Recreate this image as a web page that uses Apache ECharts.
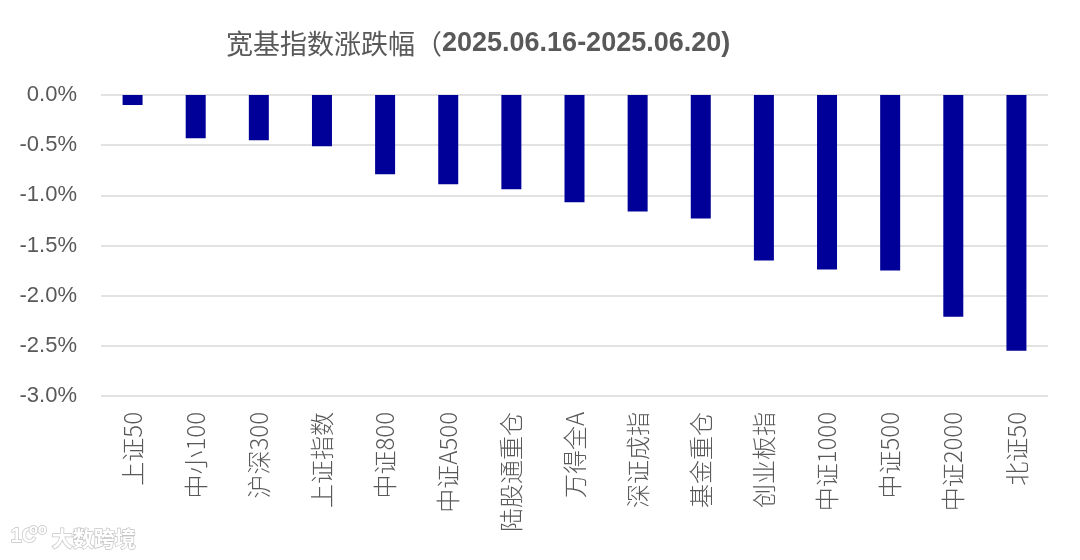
<!DOCTYPE html>
<html><head><meta charset="utf-8">
<script src="https://cdn.jsdelivr.net/npm/echarts@6/dist/echarts.min.js"></script>
<style>html,body{margin:0;padding:0;background:#fff}#c{width:1080px;height:560px}</style>
</head><body><div id="c"></div>
<script>
const categories = ['上证50','中小100','沪深300','上证指数','中证800','中证A500','陆股通重仓','万得全A','深证成指','基金重仓','创业板指','中证1000','中证500','中证2000','北证50'];
const values = [-0.10,-0.43,-0.45,-0.51,-0.79,-0.89,-0.94,-1.07,-1.16,-1.23,-1.65,-1.74,-1.75,-2.21,-2.55];
const titleMain = '宽基指数涨跌幅（';
const titleDate = '2025.06.16-2025.06.20)';
const watermark = '大数跨境';

const chart = echarts.init(document.getElementById('c'));
chart.setOption({
  backgroundColor: '#fff',
  animation: false,
  title: {
    text: '{a|' + titleMain + '}{b|' + titleDate + '}',
    left: 221, top: 25,
    textStyle: {
      fontWeight: 'normal',
      rich: {
        a: {fontFamily: 'Noto Sans CJK SC', fontSize: 27, fontWeight: 'normal', color: '#595959'},
        b: {fontFamily: 'Liberation Sans', fontSize: 27, fontWeight: 'bold', color: '#595959'}
      }
    }
  },
  grid: {left: 101, right: 32, top: 95, bottom: 164},
  xAxis: {
    type: 'category', data: categories, position: 'bottom',
    axisLine: {show: false}, axisTick: {show: false},
    axisLabel: {rotate: 90, margin: 16, fontSize: 24, fontWeight: 300, color: '#595959', fontFamily: 'Noto Sans CJK SC', interval: 0}
  },
  yAxis: {
    type: 'value', min: -3, max: 0, interval: 0.5,
    axisLine: {show: false}, axisTick: {show: false},
    splitLine: {lineStyle: {color: '#d9d9d9', width: 1.5}},
    axisLabel: {margin: 24, fontSize: 22, color: '#595959', fontFamily: 'Liberation Sans',
      formatter: v => v.toFixed(1) + '%'}
  },
  series: [{
    type: 'bar', data: values, barWidth: 20,
    itemStyle: {color: '#000099'}
  }],
  graphic: [{
    type: 'text', left: 51, top: 527,
    style: {text: watermark, fontSize: 21, fontWeight: 'bold', fontFamily: 'Noto Sans CJK SC',
      fill: '#ffffff', stroke: '#c4c4c4', lineWidth: 1.4}
  },{
    type: 'text', left: 10, top: 526,
    style: {text: '1C', fontSize: 20, fontWeight: 'bold', fontFamily: 'Liberation Sans', fill: '#ffffff', stroke: '#c4c4c4', lineWidth: 1.4}
  },{
    type: 'text', left: 28, top: 522,
    style: {text: 'oo', fontSize: 15, fontWeight: 'bold', fontFamily: 'Liberation Sans', fill: '#ffffff', stroke: '#c4c4c4', lineWidth: 1.4}
  }]
});
</script></body></html>
